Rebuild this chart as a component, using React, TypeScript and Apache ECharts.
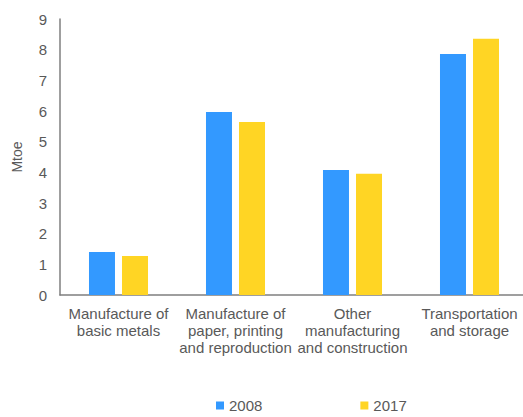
import React, { useEffect, useRef } from "react";
import * as echarts from "echarts";

const categories = [
  "Manufacture of\nbasic metals",
  "Manufacture of\npaper, printing\nand reproduction",
  "Other\nmanufacturing\nand construction",
  "Transportation\nand storage",
];
const values2008 = [1.4, 5.97, 4.08, 7.86];
const values2017 = [1.27, 5.64, 3.95, 8.36];
const seriesNames = ["2008", "2017"];

export default function App() {
  const ref = useRef<HTMLDivElement>(null);
  useEffect(() => {
    if (!ref.current) return;
    const chart = echarts.init(ref.current, undefined, { renderer: "svg" });
    const font = "Liberation Sans, Arial, sans-serif";
    chart.setOption({
      animation: false,
      textStyle: { fontFamily: font },
      grid: {
        left: 60,
        top: 19,
        width: 468,
        height: 276,
        containLabel: false,
        outerBoundsMode: "none",
      },
      legend: {
        data: seriesNames,
        left: 211,
        top: 393,
        icon: "rect",
        itemWidth: 8,
        itemHeight: 8,
        itemGap: 98,
        textStyle: { fontSize: 15, color: "#595959", fontFamily: font },
      },
      xAxis: {
        type: "category",
        data: categories,
        axisLine: { lineStyle: { color: "#7f7f7f", width: 1.5 } },
        axisTick: { show: false },
        axisLabel: {
          interval: 0,
          fontSize: 15,
          lineHeight: 17,
          color: "#595959",
          margin: 10,
          fontFamily: font,
        },
      },
      yAxis: {
        type: "value",
        min: 0,
        max: 9,
        interval: 1,
        name: "Mtoe",
        nameLocation: "middle",
        nameRotate: 90,
        nameGap: 36,
        nameTextStyle: { fontSize: 14, color: "#595959", fontFamily: font },
        axisLine: { show: true, lineStyle: { color: "#7f7f7f", width: 1.5 } },
        axisTick: { show: false },
        splitLine: { show: false },
        axisLabel: { fontSize: 15, color: "#595959", margin: 13, fontFamily: font },
      },
      series: [
        {
          name: seriesNames[0],
          type: "bar",
          data: values2008,
          barWidth: 26,
          barGap: "27%",
          itemStyle: { color: "#3399FF" },
        },
        {
          name: seriesNames[1],
          type: "bar",
          data: values2017,
          barWidth: 26,
          barGap: "27%",
          itemStyle: { color: "#FFD524" },
        },
      ],
    });
    return () => chart.dispose();
  }, []);
  return (
    <div
      ref={ref}
      style={{ position: "absolute", left: 0, top: 0, width: 523, height: 417, overflow: "hidden" }}
    />
  );
}
